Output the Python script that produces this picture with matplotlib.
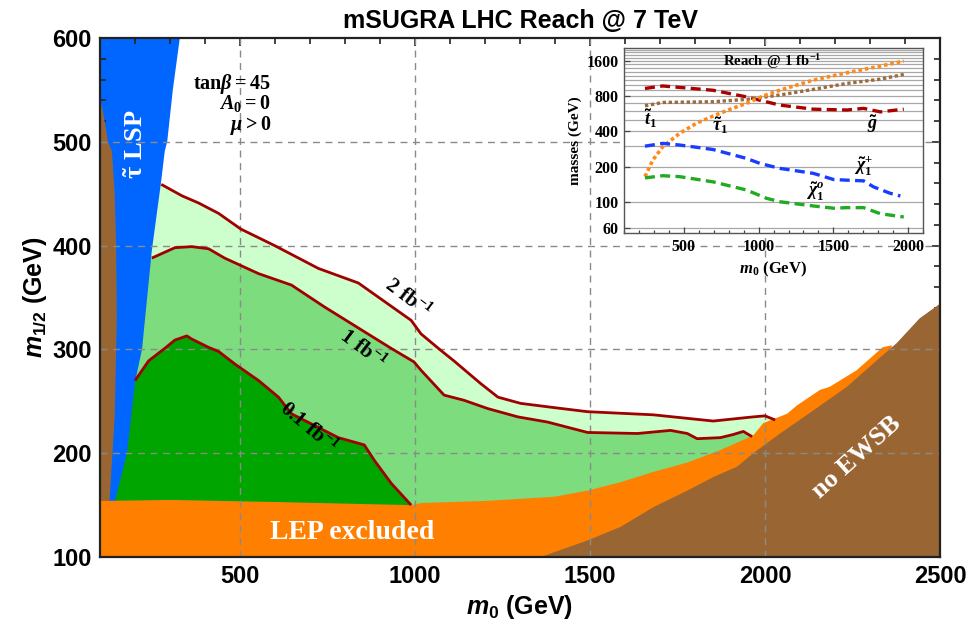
import numpy as np
import matplotlib
matplotlib.use("Agg")
import matplotlib.pyplot as plt
from matplotlib.ticker import MultipleLocator, FixedLocator, NullLocator, FixedFormatter

plt.rcParams['mathtext.fontset'] = 'custom'
plt.rcParams['mathtext.rm'] = 'Liberation Sans:bold'
plt.rcParams['mathtext.it'] = 'Liberation Sans:italic:bold'
plt.rcParams['mathtext.bf'] = 'Liberation Serif:bold'
plt.rcParams['mathtext.bfit'] = 'Liberation Serif:italic:bold'
plt.rcParams['font.family'] = ['Liberation Sans', 'DejaVu Sans']

# ---------------- data (m0, m1/2) in GeV ----------------
# stau LSP region: right boundary (m0) vs m1/2
stau_edge_m12 = [150, 200, 270, 300, 395, 460, 491, 500, 550, 600]
stau_edge_m0 = [140, 177, 201, 220, 248, 274, 285, 292, 308, 328]

# left theory-excluded (brown) strip: right boundary
left_edge_m12 = [150, 158, 235, 331, 400, 450, 491, 500, 530, 541]
left_edge_m0 = [125, 128, 142, 148, 146, 142, 134, 123, 108, 100]

# LEP excluded region upper boundary
lep_m0 = [100, 300, 600, 989, 1017, 1200, 1396, 1493, 1587, 1681, 1778, 1872,
          1966, 1995, 2063, 2091, 2157, 2185, 2262, 2336, 2362]
lep_m12 = [154, 155, 153, 150, 152, 154, 158, 164, 172, 182, 191, 203,
           217, 229, 238, 246, 261, 264, 280, 302, 304]

# no EWSB region upper boundary
ewsb_m0 = [1359, 1493, 1587, 1681, 1778, 1852, 1920, 1966, 2043, 2137, 2234,
           2328, 2376, 2442, 2500]
ewsb_m12 = [100, 116, 129, 148, 164, 177, 187, 200, 219, 241, 264, 292, 306,
            330, 344]

# reach contours
r2_m0 = [275, 334, 382, 439, 502, 599, 724, 838, 989, 1017, 1074, 1111, 1188,
         1237, 1302, 1396, 1493, 1681, 1852, 1966, 2000, 2029]
r2_m12 = [459, 448, 441, 431, 416, 400, 378, 364, 328, 315, 299, 289, 267,
          254, 248, 244, 240, 237, 231, 235, 236, 232]

r1_m0 = [248, 314, 362, 410, 456, 553, 647, 741, 932, 997, 1017, 1083, 1140,
         1208, 1294, 1379, 1493, 1636, 1730, 1778, 1806, 1872, 1909, 1938, 1963]
r1_m12 = [388, 398, 399, 397, 388, 373, 362, 341, 301, 288, 280, 256, 251,
          243, 235, 230, 220, 219, 222, 219, 214, 215, 218, 221, 216]

r01_m0 = [200, 239, 285, 314, 348, 362, 410, 439, 485, 553, 610, 647, 781,
          855, 884, 932, 989]
r01_m12 = [270, 289, 301, 309, 313, 310, 302, 298, 286, 270, 254, 238, 215,
           208, 193, 171, 150]

# inset: sparticle masses at 1 fb^-1 reach
in_gl_m0 = [240, 359, 695, 919, 1008, 1142, 1366, 1590, 1702, 1814, 1971]
in_gl_m = [933, 980, 900, 790, 740, 672, 620, 610, 630, 588, 620]
in_st_m0 = [240, 359, 695, 919, 1142, 1366, 1590, 1814, 1971]
in_st_m = [663, 708, 718, 752, 820, 916, 1030, 1120, 1230]
in_ta_m0 = [240, 292, 359, 471, 583, 695, 807, 919, 1031, 1142, 1366, 1590, 1814, 1971]
in_ta_m = [164, 227, 296, 384, 469, 541, 617, 697, 804, 901, 1100, 1270, 1450, 1600]
in_ch_m0 = [240, 359, 471, 695, 919, 1008, 1142, 1366, 1501, 1590, 1702, 1769, 1881, 1948]
in_ch_m = [299, 316, 306, 280, 235, 213, 193, 175, 155, 153, 151, 134, 118, 112]
in_n1_m0 = [240, 359, 471, 695, 919, 1053, 1142, 1366, 1501, 1590, 1702, 1814, 1971]
in_n1_m = [160, 167, 164, 148, 126, 107, 100, 92, 88, 89, 89, 79, 74]

inset_yticks = [60, 100, 200, 400, 800, 1600]
inset_grid = [60] + list(range(100, 2001, 100))

# ---------------- colours ----------------
c_light = '#ccffcc'
c_mid = '#7ddc7d'
c_dark = '#00a500'
c_blue = '#0066ff'
c_brown = '#996633'
c_orange = '#ff8000'
c_line = '#a00000'

fig = plt.figure(figsize=(9.69, 6.27), dpi=100)
ax = fig.add_axes([0.1032, 0.1116, 0.8669, 0.8278])
ax.set_xlim(100, 2500)
ax.set_ylim(100, 600)

# reach fills
ax.fill(np.r_[100, r2_m0, 2029, 100], np.r_[459, r2_m12, 100, 100], color=c_light, lw=0, zorder=1)
ax.fill(np.r_[100, r1_m0, 1963, 100], np.r_[388, r1_m12, 100, 100], color=c_mid, lw=0, zorder=1.1)
ax.fill(np.r_[100, r01_m0, 989, 100], np.r_[270, r01_m12, 100, 100], color=c_dark, lw=0, zorder=1.2)

# stau LSP
ax.fill(np.r_[100, stau_edge_m0, 100], np.r_[150, stau_edge_m12, 600], color=c_blue, lw=0, zorder=1.5)
# left brown
ax.fill(np.r_[100, left_edge_m0], np.r_[150, left_edge_m12], color=c_brown, lw=0, zorder=1.6)
# LEP
ax.fill(np.r_[100, lep_m0, 2362], np.r_[100, lep_m12, 100], color=c_orange, lw=0, zorder=1.7)
# no EWSB
ax.fill(np.r_[ewsb_m0, 2500], np.r_[ewsb_m12, 100], color=c_brown, lw=0, zorder=1.8)

# contours
for xs, ys in [(r2_m0, r2_m12), (r1_m0, r1_m12), (r01_m0, r01_m12)]:
    ax.plot(xs, ys, color=c_line, lw=2.0, zorder=4, solid_capstyle='butt')

# grid
for gx in [500, 1000, 1500, 2000]:
    ax.axvline(gx, color='#8a8a8a', lw=1.0, ls=(0, (5, 4)), zorder=3)
for gy in [200, 300, 400, 500]:
    ax.axhline(gy, color='#8a8a8a', lw=1.0, ls=(0, (5, 4)), zorder=3)

ax.xaxis.set_major_locator(FixedLocator([500, 1000, 1500, 2000, 2500]))
ax.xaxis.set_minor_locator(MultipleLocator(100))
ax.yaxis.set_major_locator(MultipleLocator(100))
ax.yaxis.set_minor_locator(MultipleLocator(20))
ax.tick_params(which='both', direction='in', top=True, right=True, width=1.2, color='#222222')
ax.tick_params(which='major', length=6, labelsize=17, pad=6)
ax.tick_params(which='minor', length=4)
for lab in ax.get_xticklabels() + ax.get_yticklabels():
    lab.set_fontweight('bold')
for sp in ax.spines.values():
    sp.set_linewidth(1.6)
    sp.set_color('#222222')
    sp.set_zorder(6)

ax.set_xlabel(r'$m_0$ (GeV)', fontsize=18, fontweight='bold', labelpad=3)
ax.set_ylabel(r'$m_{1/2}$ (GeV)', fontsize=18, fontweight='bold', labelpad=2)
ax.set_title('mSUGRA LHC Reach @ 7 TeV', fontsize=18, fontweight='bold', pad=7)

serif = ['Liberation Serif', 'DejaVu Serif']
ax.text(203, 498, r'$\mathbf{\tilde{\tau}\ LSP}$', rotation=90, color='white', fontsize=19,
        ha='center', va='center', zorder=5)
ax.text(590, 556, r'$\mathbf{tan}\mathbfit{\beta} \mathbf{=} \mathbf{45}$', fontsize=14.5, ha='right', va='center', zorder=5)
ax.text(590, 536, r'$\mathbfit{A}_{\mathbf{0}} \mathbf{=} \mathbf{0}$', fontsize=14.5, ha='right', va='center', zorder=5)
ax.text(590, 516, r'$\mathbfit{\mu} \mathbf{>} \mathbf{0}$', fontsize=14.5, ha='right', va='center', zorder=5)
ax.text(980, 350, r'$\mathbf{2\ fb^{-1}}$', rotation=-37, fontsize=15, ha='center', va='center', zorder=5)
ax.text(852, 301, r'$\mathbf{1\ fb^{-1}}$', rotation=-37, fontsize=15, ha='center', va='center', zorder=5)
ax.text(695, 225, r'$\mathbf{0.1\ fb^{-1}}$', rotation=-40, fontsize=15, ha='center', va='center', zorder=5)
ax.text(821, 124, 'LEP excluded', family=serif, fontweight='bold', color='white', fontsize=20,
        ha='center', va='center', zorder=5)
ax.text(2262, 196, 'no EWSB', family=serif, fontweight='bold', color='white', fontsize=19,
        rotation=42, ha='center', va='center', zorder=5)

# ---------------- inset ----------------
ins = fig.add_axes([0.644, 0.6284, 0.3086, 0.295])
ins.set_facecolor('white')
ins.set_zorder(10)
ins.set_xlim(100, 2100)
ins.set_yscale('log')
ins.set_ylim(54, 2070)
for g in inset_grid:
    ins.axhline(g, color='#a8a8a8', lw=0.9, zorder=1)

dash = (0, (3.0, 1.6))
dot = (0, (1.0, 0.8))
ins.plot(in_gl_m0, in_gl_m, color='#aa0000', lw=2.4, ls=dash, zorder=3)
ins.plot(in_st_m0, in_st_m, color='#9c6b3c', lw=2.4, ls=dot, zorder=3)
ins.plot(in_ta_m0, in_ta_m, color='#ff8a1a', lw=2.6, ls=dot, zorder=3)
ins.plot(in_ch_m0, in_ch_m, color='#1a3cff', lw=2.4, ls=dash, zorder=3)
ins.plot(in_n1_m0, in_n1_m, color='#22aa22', lw=2.4, ls=dash, zorder=3)

ins.yaxis.set_major_locator(FixedLocator(inset_yticks))
ins.yaxis.set_major_formatter(FixedFormatter([str(v) for v in inset_yticks]))
ins.yaxis.set_minor_locator(NullLocator())
ins.xaxis.set_major_locator(FixedLocator([500, 1000, 1500, 2000]))
ins.xaxis.set_minor_locator(MultipleLocator(100))
ins.tick_params(which='both', direction='in', color='#444444', width=0.9)
ins.tick_params(which='major', length=4, labelsize=11.5, pad=4)
ins.tick_params(which='minor', length=2.5)
for lab in ins.get_xticklabels() + ins.get_yticklabels():
    lab.set_family(serif)
    lab.set_fontweight('bold')
for sp in ins.spines.values():
    sp.set_color('#555555')
    sp.set_linewidth(1.0)

ins.set_ylabel('masses (GeV)', family=serif, fontweight='bold', fontsize=11, labelpad=3)
ins.set_xlabel(r'$\mathbfit{m}_{\mathbf{0}}$ (GeV)', family=serif, fontweight='bold', fontsize=12, labelpad=4)
ins.text(1090, 1600, r'$\mathbf{Reach\ @\ 1\ fb^{-1}}$', fontsize=10.5, ha='center', va='center', zorder=4)
ins.text(274, 520, r'$\tilde{\mathbfit{t}}_{\mathbf{1}}$', fontsize=13, ha='center', va='center', zorder=4)
ins.text(742, 452, r'$\tilde{\mathbfit{\tau}}_{\mathbf{1}}$', fontsize=13, ha='center', va='center', zorder=4)
ins.text(1759, 460, r'$\tilde{\mathbfit{g}}$', fontsize=13, ha='center', va='center', zorder=4)
ins.text(1699, 202, r'$\tilde{\mathbfit{\chi}}_{\mathbf{1}}^{\mathbf{+}}$', fontsize=13, ha='center', va='center', zorder=4)
ins.text(1378, 123, r'$\tilde{\mathbfit{\chi}}_{\mathbf{1}}^{\mathbfit{o}}$', fontsize=13, ha='center', va='center', zorder=4)

fig.savefig('out.png', dpi=100)
